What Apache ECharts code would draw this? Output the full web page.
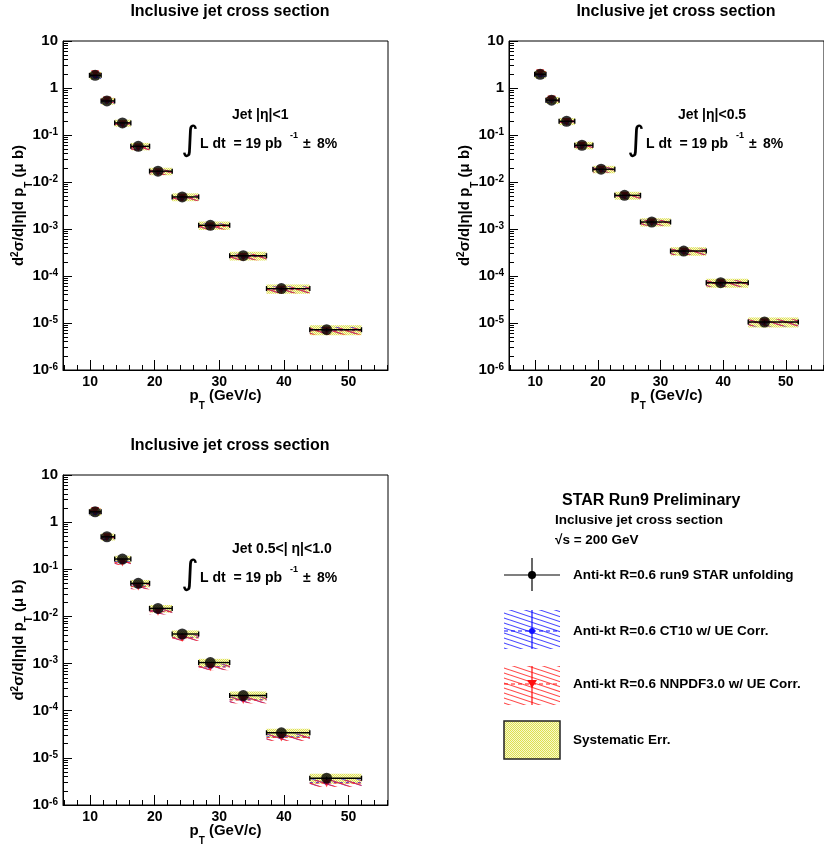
<!DOCTYPE html>
<html>
<head>
<meta charset="utf-8">
<script src="https://cdn.jsdelivr.net/npm/echarts@6/dist/echarts.min.js"></script>
<style>
  html, body { margin: 0; padding: 0; background: #fff; }
  #main { width: 824px; height: 848px; }
</style>
</head>
<body>
<div id="main"></div>
<script>
// jet pT bins (GeV/c)
var binEdges = [9.9, 11.7, 13.8, 16.3, 19.2, 22.7, 26.8, 31.6, 37.3, 44.0, 52.0];
var ptCenters = [10.77, 12.6, 15.0, 17.45, 20.5, 24.25, 28.6, 33.7, 39.6, 46.6];

// STAR unfolded cross sections (mu b)
var xsecEta1 = [1.86, 0.53, 0.181, 0.0575, 0.0170, 0.00482, 0.00120, 2.7e-4, 5.4e-5, 7.2e-6];
var xsecEta05 = [1.96, 0.55, 0.196, 0.0605, 0.0187, 0.0052, 0.00141, 3.4e-4, 7.2e-5, 1.05e-5];
var xsecEta0510 = [1.66, 0.49, 0.165, 0.0503, 0.0148, 0.00424, 0.00105, 2.1e-4, 3.4e-5, 3.7e-6];
var statRel = [0.01, 0.01, 0.01, 0.01, 0.015, 0.02, 0.02, 0.03, 0.05, 0.08];
var sysRel = [0.18, 0.17, 0.17, 0.18, 0.18, 0.19, 0.2, 0.21, 0.22, 0.24];

// theory w/ UE corr.
var ct10Eta1 = [1.78, 0.52, 0.172, 0.0545, 0.0163, 0.00465, 0.00116, 2.6e-4, 5.2e-5, 7.0e-6];
var nnpdfEta1 = [1.95, 0.54, 0.170, 0.0540, 0.0162, 0.00460, 0.00113, 2.55e-4, 5.1e-5, 6.8e-6];
var ct10Eta05 = [1.88, 0.55, 0.19, 0.059, 0.0183, 0.0051, 0.00138, 3.3e-4, 7.0e-5, 1.02e-5];
var nnpdfEta05 = [2.05, 0.57, 0.19, 0.059, 0.0182, 0.0051, 0.00137, 3.3e-4, 7.0e-5, 1.03e-5];
var ct10Eta0510 = [1.58, 0.47, 0.145, 0.044, 0.0128, 0.0036, 0.00086, 1.72e-4, 2.8e-5, 3.0e-6];
var nnpdfEta0510 = [1.72, 0.48, 0.14, 0.043, 0.0126, 0.0035, 0.00084, 1.68e-4, 2.7e-5, 2.9e-6];
var theoryRel = [0.12, 0.12, 0.12, 0.13, 0.13, 0.14, 0.14, 0.15, 0.16, 0.17];

// ticks
var xMajorTicks = [10, 20, 30, 40, 50];
var xMinorTicks = [6, 8, 12, 14, 16, 18, 22, 24, 26, 28, 32, 34, 36, 38, 42, 44, 46, 48, 52, 54, 56];
var yMajorTicks = [1e-6, 1e-5, 1e-4, 1e-3, 1e-2, 1e-1, 1, 10];
var yMantissas = [2, 3, 4, 5, 6, 7, 8, 9];
var yMinorTicks = [];
for (var d = 0; d < yMajorTicks.length - 1; d++) {
  yMantissas.forEach(function (m) { yMinorTicks.push(m * yMajorTicks[d]); });
}

var etaLabels = ['Jet |η|<1', 'Jet |η|<0.5', 'Jet 0.5<| η|<1.0'];
var dataSets = [xsecEta1, xsecEta05, xsecEta0510];
var ct10Sets = [ct10Eta1, ct10Eta05, ct10Eta0510];
var nnpdfSets = [nnpdfEta1, nnpdfEta05, nnpdfEta0510];

// layout
var boxes = [
  { left: 63, top: 41, width: 325, height: 329 },
  { left: 509, top: 41, width: 325, height: 329 },
  { left: 63, top: 475, width: 325, height: 330 }
];

var FONT = "'Liberation Sans', Arial, Helvetica, sans-serif";

function hatch(color) {
  var c = document.createElement('canvas');
  c.width = 30; c.height = 30;
  var g = c.getContext('2d');
  g.strokeStyle = color;
  g.lineWidth = 1.1;
  for (var k = -4; k <= 8; k++) {
    g.beginPath();
    g.moveTo(0, k * 5);
    g.lineTo(30, k * 5 + 10);
    g.stroke();
  }
  return c;
}
function checker() {
  var c = document.createElement('canvas');
  c.width = 2; c.height = 2;
  var g = c.getContext('2d');
  g.fillStyle = '#f8f8cc';
  g.fillRect(0, 0, 2, 2);
  g.fillStyle = '#dde052';
  g.fillRect(0, 0, 1, 1);
  g.fillRect(1, 1, 1, 1);
  return c;
}
var blueFill = { image: hatch('rgba(40,40,255,0.85)'), repeat: 'repeat' };
var redFill = { image: hatch('rgba(255,40,40,0.85)'), repeat: 'repeat' };
var yellowFill = { image: checker(), repeat: 'repeat' };

function bandRender(fill, lineColor) {
  return function (params, api) {
    var a = api.coord([api.value(0), api.value(3)]);
    var b = api.coord([api.value(1), api.value(2)]);
    var kids = [{
      type: 'rect',
      shape: { x: a[0], y: a[1], width: b[0] - a[0], height: b[1] - a[1] },
      style: { fill: fill }
    }];
    if (lineColor) {
      var m = api.coord([api.value(0), api.value(4)]);
      kids.push({
        type: 'line',
        shape: { x1: a[0], y1: m[1], x2: b[0], y2: m[1] },
        style: { stroke: lineColor, lineWidth: 0.8, lineDash: [3, 3] }
      });
    }
    return { type: 'group', children: kids };
  };
}

function errRender(params, api) {
  var c = api.coord([api.value(0), api.value(1)]);
  var l = api.coord([api.value(2), api.value(1)]);
  var r = api.coord([api.value(3), api.value(1)]);
  var lo = api.coord([api.value(0), api.value(4)]);
  var hi = api.coord([api.value(0), api.value(5)]);
  var st = { stroke: '#000', lineWidth: 1.4 };
  return {
    type: 'group',
    children: [
      { type: 'line', shape: { x1: l[0], y1: c[1], x2: r[0], y2: c[1] }, style: st },
      { type: 'line', shape: { x1: l[0], y1: c[1] - 2.5, x2: l[0], y2: c[1] + 2.5 }, style: st },
      { type: 'line', shape: { x1: r[0], y1: c[1] - 2.5, x2: r[0], y2: c[1] + 2.5 }, style: st },
      { type: 'line', shape: { x1: c[0], y1: lo[1], x2: c[0], y2: hi[1] }, style: st }
    ]
  };
}

function yLabel(v) {
  var e = Math.round(Math.log10(v));
  if (e === 0) return '{b|1}';
  if (e === 1) return '{b|10}';
  return '{b|10}{s|' + e + '}';
}

var grids = [], xAxes = [], yAxes = [], series = [], graphics = [];

boxes.forEach(function (bx, p) {
  grids.push({ left: bx.left, top: bx.top, width: bx.width, height: bx.height,
    show: true, borderColor: '#000', borderWidth: 1, backgroundColor: '#fff' });

  xAxes.push({
    gridIndex: p, type: 'value', position: 'bottom', min: 5.8, max: 56.1,
    name: '{b|p}{sb|T}{b| (GeV/c)}', nameLocation: 'middle', nameGap: 18, nameMoveOverlap: false,
    nameTextStyle: { rich: {
      b: { fontFamily: FONT, fontWeight: 'bold', fontSize: 15, color: '#000', lineHeight: 16 },
      sb: { fontFamily: FONT, fontWeight: 'bold', fontSize: 10, color: '#000', verticalAlign: 'bottom', lineHeight: 8, padding: [0, 0, -7, 0] }
    } },
    axisLine: { show: true, lineStyle: { color: '#000', width: 1 } },
    axisTick: { show: true, inside: true, length: 10, customValues: xMajorTicks, lineStyle: { color: '#000' } },
    axisLabel: { customValues: xMajorTicks, margin: 5, fontFamily: FONT, fontWeight: 'bold', fontSize: 14, color: '#000' },
    splitLine: { show: false }
  });
  xAxes.push({
    gridIndex: p, type: 'value', position: 'bottom', min: 5.8, max: 56.1,
    axisLine: { show: false },
    axisTick: { show: true, inside: true, length: 5, customValues: xMinorTicks, lineStyle: { color: '#000' } },
    axisLabel: { show: false }, splitLine: { show: false }
  });

  yAxes.push({
    gridIndex: p, type: 'log', logBase: 10, position: 'left', min: 1e-6, max: 10,
    name: '{b|d}{sp|2}{b|σ/d|η|d p}{sb|T}{b| (μ b)}', nameLocation: 'middle', nameGap: 35, nameMoveOverlap: false,
    nameTextStyle: { rich: {
      b: { fontFamily: FONT, fontWeight: 'bold', fontSize: 15, color: '#000', lineHeight: 18 },
      sp: { fontFamily: FONT, fontWeight: 'bold', fontSize: 10, color: '#000', verticalAlign: 'top', lineHeight: 10 },
      sb: { fontFamily: FONT, fontWeight: 'bold', fontSize: 10, color: '#000', verticalAlign: 'bottom', lineHeight: 8, padding: [0, 0, -6, 0] }
    } },
    axisLine: { show: true, lineStyle: { color: '#000', width: 1 } },
    axisTick: { show: true, inside: true, length: 9, customValues: yMajorTicks, lineStyle: { color: '#000' } },
    axisLabel: { customValues: yMajorTicks, margin: 5, formatter: yLabel, rich: {
      b: { fontFamily: FONT, fontWeight: 'bold', fontSize: 15, color: '#000', lineHeight: 16 },
      s: { fontFamily: FONT, fontWeight: 'bold', fontSize: 10, color: '#000', verticalAlign: 'top', lineHeight: 8 }
    } },
    splitLine: { show: false }
  });
  yAxes.push({
    gridIndex: p, type: 'log', logBase: 10, position: 'left', min: 1e-6, max: 10,
    axisLine: { show: false },
    axisTick: { show: true, inside: true, length: 5, customValues: yMinorTicks, lineStyle: { color: '#000' } },
    axisLabel: { show: false }, splitLine: { show: false }
  });

  var xi = p * 2, yi = p * 2;
  var vals = dataSets[p], ct = ct10Sets[p], nn = nnpdfSets[p];
  var sysRows = [], ctRows = [], nnRows = [], errRows = [], ptsData = [], ctPts = [], nnPts = [];
  for (var i = 0; i < vals.length; i++) {
    sysRows.push([binEdges[i], binEdges[i + 1], vals[i] * (1 - sysRel[i]), vals[i] * (1 + sysRel[i])]);
    ctRows.push([binEdges[i], binEdges[i + 1], ct[i] * (1 - theoryRel[i]), ct[i] * (1 + theoryRel[i]), ct[i]]);
    nnRows.push([binEdges[i], binEdges[i + 1], nn[i] * (1 - theoryRel[i]), nn[i] * (1 + theoryRel[i]), nn[i]]);
    errRows.push([ptCenters[i], vals[i], binEdges[i], binEdges[i + 1], vals[i] * (1 - statRel[i]), vals[i] * (1 + statRel[i])]);
    ptsData.push([ptCenters[i], vals[i]]);
    ctPts.push([ptCenters[i], ct[i]]);
    nnPts.push([ptCenters[i], nn[i]]);
  }
  series.push(
    { type: 'custom', name: 'Systematic Err.', xAxisIndex: xi, yAxisIndex: yi, z: 2,
      renderItem: bandRender(yellowFill), encode: { x: [0, 1], y: [2, 3] }, data: sysRows },
    { type: 'custom', name: 'CT10', xAxisIndex: xi, yAxisIndex: yi, z: 3,
      renderItem: bandRender(blueFill, '#2020ff'), encode: { x: [0, 1], y: [2, 3] }, data: ctRows },
    { type: 'custom', name: 'NNPDF3.0', xAxisIndex: xi, yAxisIndex: yi, z: 4,
      renderItem: bandRender(redFill, '#ff2020'), encode: { x: [0, 1], y: [2, 3] }, data: nnRows },
    { type: 'scatter', xAxisIndex: xi, yAxisIndex: yi, z: 5, symbol: 'circle', symbolSize: 5,
      itemStyle: { color: '#1010ff' }, data: ctPts, silent: true },
    { type: 'scatter', xAxisIndex: xi, yAxisIndex: yi, z: 5, symbol: 'triangle', symbolRotate: 180, symbolSize: 8,
      itemStyle: { color: '#ff1010' }, data: nnPts, silent: true },
    { type: 'custom', name: 'STAR', xAxisIndex: xi, yAxisIndex: yi, z: 6,
      renderItem: errRender, encode: { x: [0, 2, 3], y: [1, 4, 5] }, data: errRows },
    { type: 'scatter', xAxisIndex: xi, yAxisIndex: yi, z: 7, symbol: 'circle', symbolSize: 11,
      itemStyle: { color: '#000' }, data: ptsData, silent: true }
  );

  // title + annotations
  var ox = bx.left, oy = bx.top;
  var txt = function (x, y, s, size, extra) {
    var st = { text: s, fill: '#000', font: 'bold ' + size + 'px ' + FONT, textVerticalAlign: 'middle' };
    for (var k in extra) st[k] = extra[k];
    return { type: 'text', x: x, y: y, style: st, z: 100 };
  };
  graphics.push(txt(ox + 167, oy - 29, 'Inclusive jet cross section', 16, { textAlign: 'center' }));
  graphics.push(txt(ox + 169, oy + 74, etaLabels[p], 14, {}));
  graphics.push({ type: 'text', x: ox + 127, y: oy + 100, z: 100,
    style: { text: '∫', fill: '#000', font: 'normal 34px "DejaVu Sans"', textAlign: 'center', textVerticalAlign: 'middle' } });
  graphics.push(txt(ox + 137, oy + 103, 'L dt  = 19 pb', 14, {}));
  graphics.push(txt(ox + 227, oy + 95, '-1', 9, {}));
  graphics.push(txt(ox + 240, oy + 103, '±', 14, {}));
  graphics.push(txt(ox + 254, oy + 103, '8%', 14, {}));
});

// legend block
function ltxt(x, y, s, size) {
  return { type: 'text', x: x, y: y, z: 100,
    style: { text: s, fill: '#000', font: 'bold ' + size + 'px ' + FONT, textVerticalAlign: 'middle' } };
}
graphics.push(
  ltxt(562, 501, 'STAR Run9 Preliminary', 16),
  ltxt(555, 520, 'Inclusive jet cross section', 13.5),
  ltxt(555, 540, '√s = 200 GeV', 13.5),
  // STAR points
  { type: 'line', shape: { x1: 504, y1: 575, x2: 560, y2: 575 }, style: { stroke: '#000', lineWidth: 1.2 } },
  { type: 'line', shape: { x1: 532, y1: 558, x2: 532, y2: 591 }, style: { stroke: '#000', lineWidth: 1.2 } },
  { type: 'circle', shape: { cx: 532, cy: 575, r: 4 }, style: { fill: '#000' } },
  ltxt(573, 575, 'Anti-kt R=0.6 run9 STAR unfolding', 13.5),
  // CT10
  { type: 'rect', shape: { x: 504, y: 610, width: 56, height: 39 }, style: { fill: blueFill } },
  { type: 'line', shape: { x1: 532, y1: 610, x2: 532, y2: 649 }, style: { stroke: '#1010ff', lineWidth: 1.2 } },
  { type: 'line', shape: { x1: 504, y1: 631, x2: 560, y2: 631 }, style: { stroke: '#1010ff', lineWidth: 1.2, lineDash: [4, 3] } },
  { type: 'circle', shape: { cx: 532, cy: 631, r: 3 }, style: { fill: '#1010ff' } },
  ltxt(573, 631, 'Anti-kt R=0.6 CT10 w/ UE Corr.', 13.5),
  // NNPDF
  { type: 'rect', shape: { x: 504, y: 666, width: 56, height: 39 }, style: { fill: redFill } },
  { type: 'line', shape: { x1: 532, y1: 666, x2: 532, y2: 705 }, style: { stroke: '#ff1010', lineWidth: 1.2 } },
  { type: 'line', shape: { x1: 504, y1: 684, x2: 560, y2: 684 }, style: { stroke: '#ff1010', lineWidth: 1.2, lineDash: [4, 3] } },
  { type: 'polygon', shape: { points: [[527, 680], [537, 680], [532, 688]] }, style: { fill: '#ff1010' } },
  ltxt(573, 684, 'Anti-kt R=0.6 NNPDF3.0 w/ UE Corr.', 13.5),
  // systematic
  { type: 'rect', shape: { x: 504, y: 721, width: 56, height: 38 }, style: { fill: yellowFill, stroke: '#222', lineWidth: 1.5 } },
  ltxt(573, 740, 'Systematic Err.', 13.5)
);

var chart = echarts.init(document.getElementById('main'), null, { renderer: 'canvas' });
chart.setOption({
  backgroundColor: '#fff',
  animation: false,
  grid: grids,
  xAxis: xAxes,
  yAxis: yAxes,
  series: series,
  graphic: graphics
});
</script>
</body>
</html>
